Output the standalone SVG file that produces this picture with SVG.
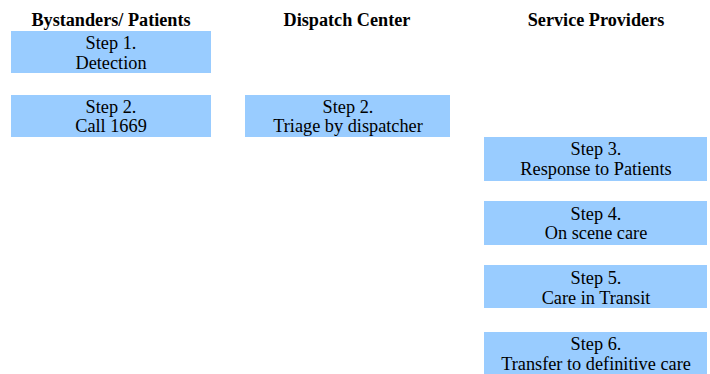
<svg xmlns="http://www.w3.org/2000/svg" width="710" height="374" viewBox="0 0 710 374">
<style>
.box{fill:#99CCFF;}
.t{font-family:"Liberation Serif","Times New Roman",serif;font-size:18.3px;fill:#000;text-anchor:middle;}
.h{font-family:"Liberation Serif","Times New Roman",serif;font-size:18.2px;font-weight:bold;fill:#000;text-anchor:middle;}
</style>
<rect width="710" height="374" fill="#fff"/>
<g id="headers">
<text class="h" x="111" y="26">Bystanders/ Patients</text>
<text class="h" x="347" y="26">Dispatch Center</text>
<text class="h" x="596" y="26">Service Providers</text>
</g>
<g id="connectors"></g>
<g id="step1">
<rect class="box" x="11" y="31" width="200" height="42"/>
<text class="t" x="111" y="48.5">Step 1.</text>
<text class="t" x="111" y="68.5">Detection</text>
</g>
<g id="step2-call">
<rect class="box" x="11" y="95" width="200" height="42"/>
<text class="t" x="111" y="112.5">Step 2.</text>
<text class="t" x="111" y="132">Call 1669</text>
</g>
<g id="step2-triage">
<rect class="box" x="245" y="95" width="205" height="42"/>
<text class="t" x="348" y="112.5">Step 2.</text>
<text class="t" x="348" y="132">Triage by dispatcher</text>
</g>
<g id="step3">
<rect class="box" x="484" y="137" width="223" height="44"/>
<text class="t" x="596" y="155">Step 3.</text>
<text class="t" x="596" y="175">Response to Patients</text>
</g>
<g id="step4">
<rect class="box" x="484" y="201" width="223" height="44"/>
<text class="t" x="596" y="219.5">Step 4.</text>
<text class="t" x="596" y="239">On scene care</text>
</g>
<g id="step5">
<rect class="box" x="484" y="265" width="223" height="43"/>
<text class="t" x="596" y="283.5">Step 5.</text>
<text class="t" x="596" y="303.5">Care in Transit</text>
</g>
<g id="step6">
<rect class="box" x="484" y="332" width="223" height="44"/>
<text class="t" x="596" y="350">Step 6.</text>
<text class="t" x="596" y="370">Transfer to definitive care</text>
</g>
</svg>
